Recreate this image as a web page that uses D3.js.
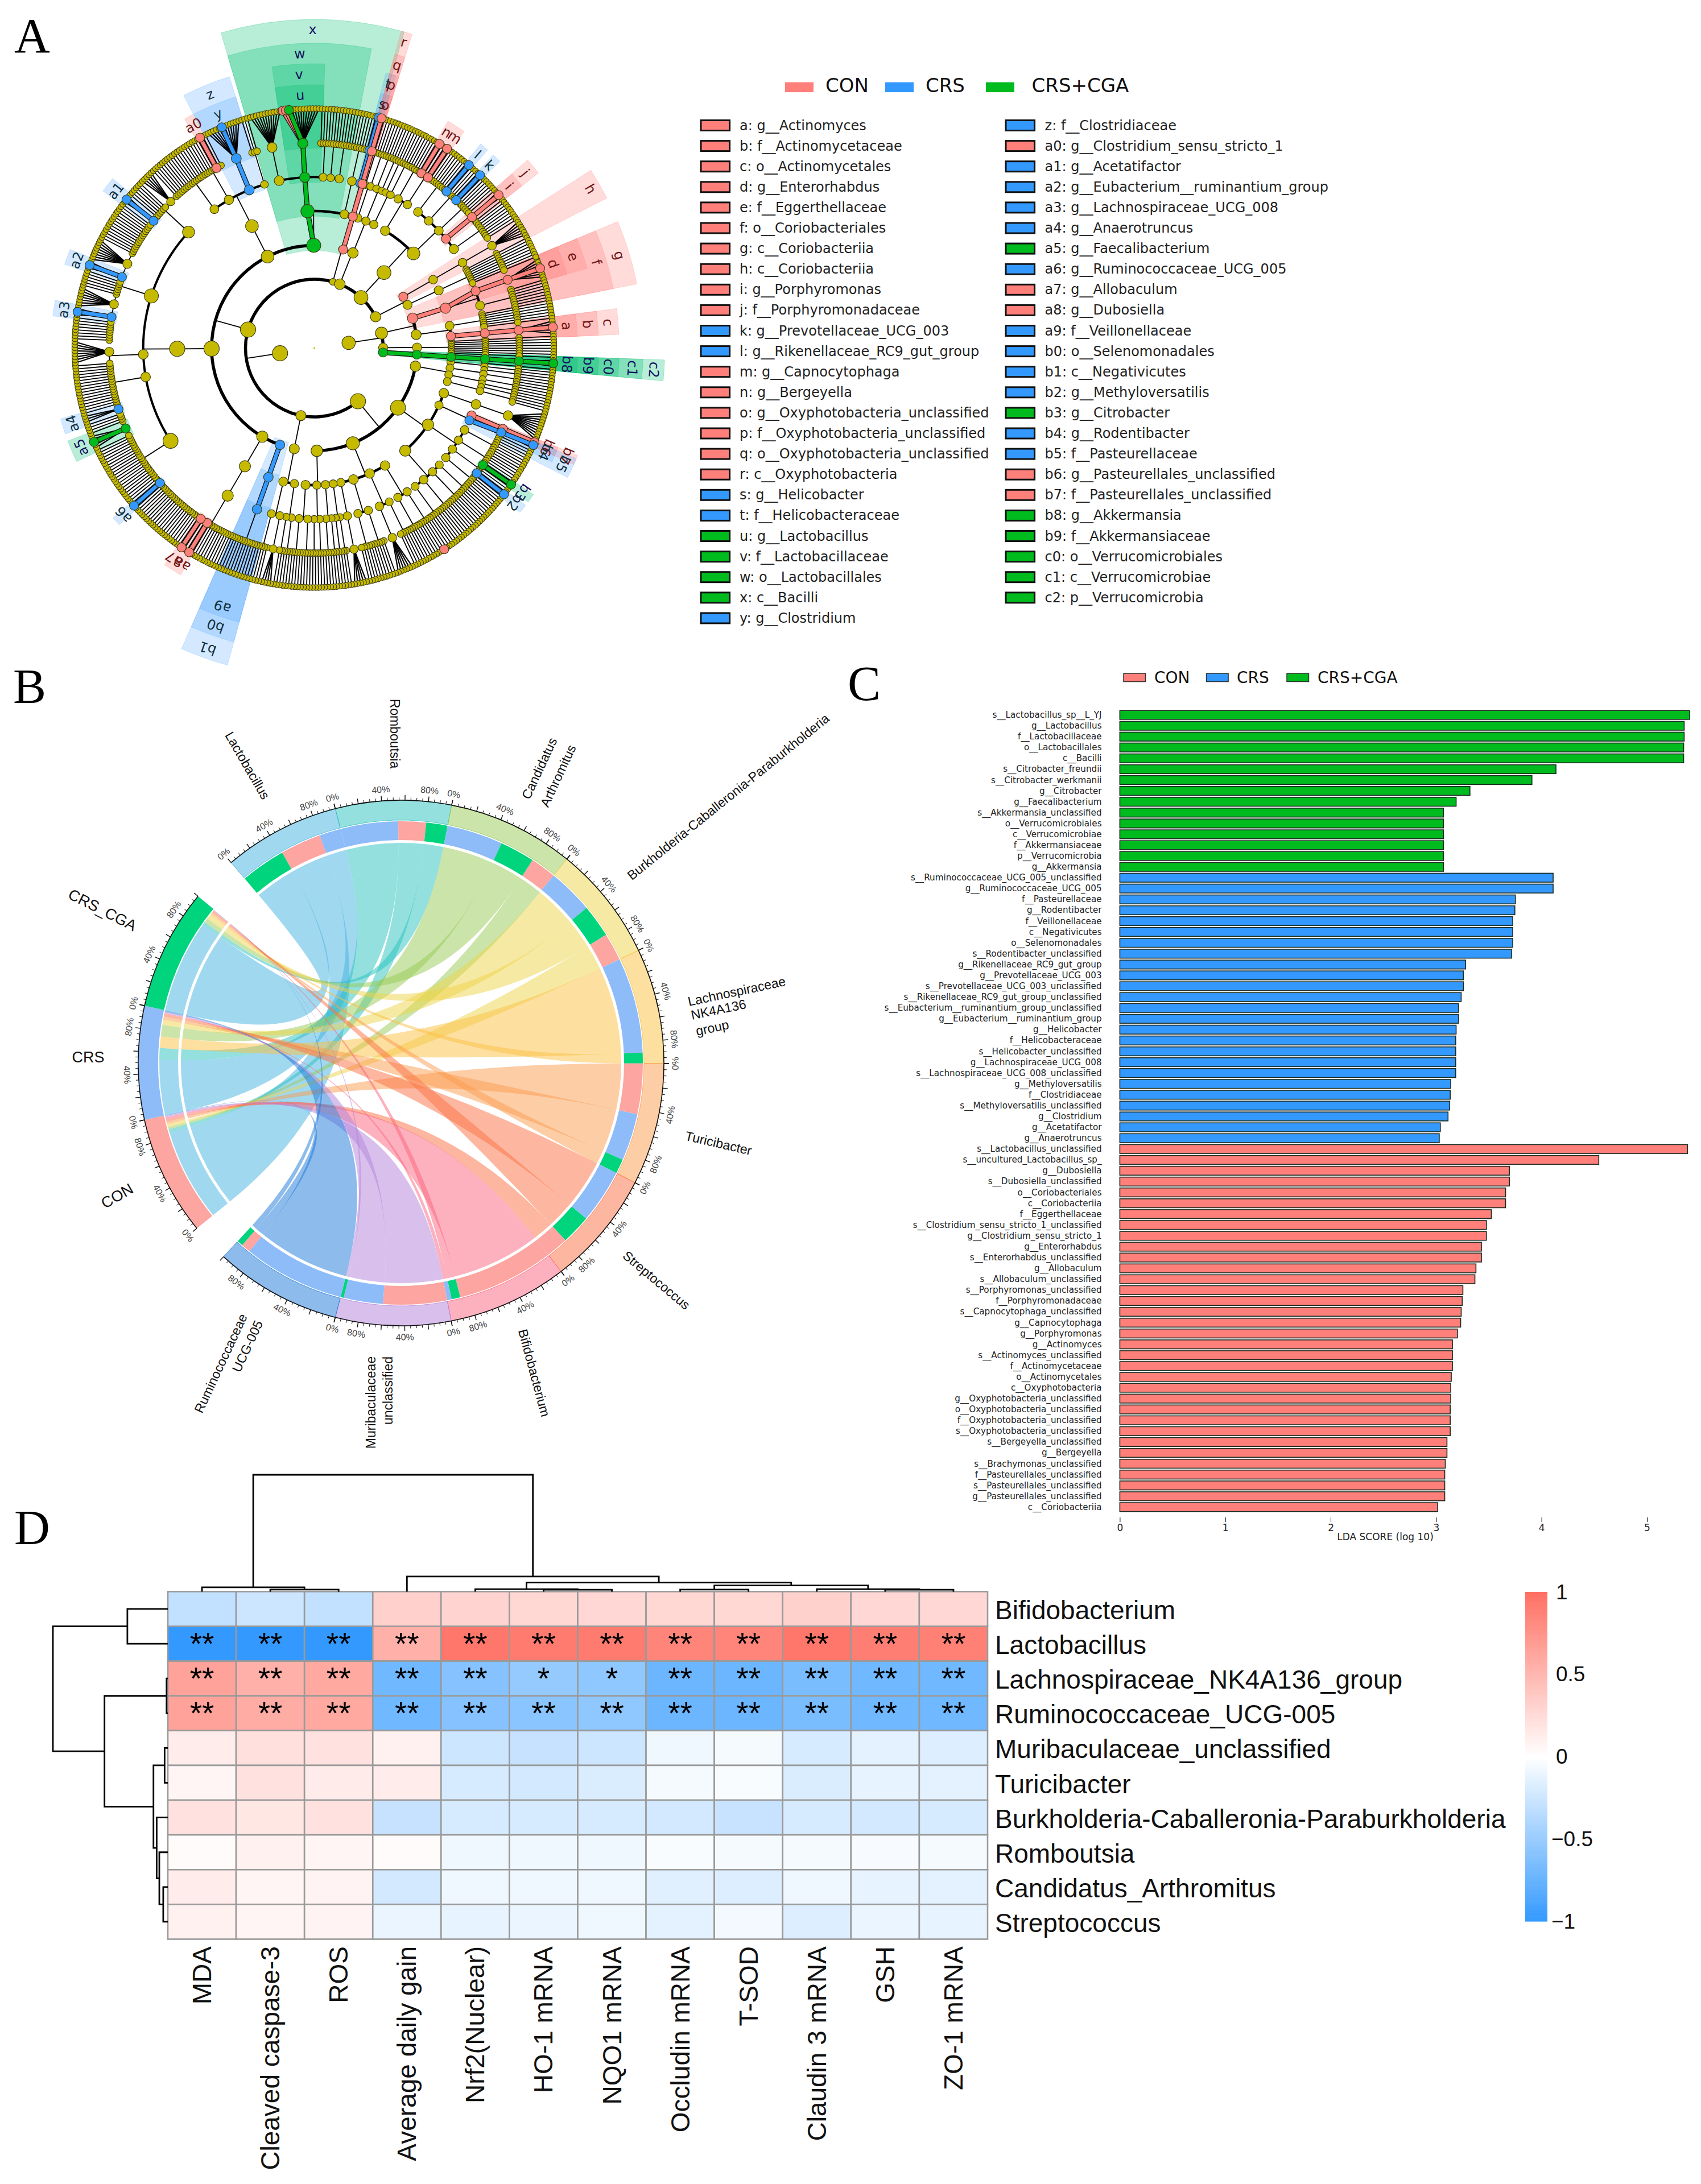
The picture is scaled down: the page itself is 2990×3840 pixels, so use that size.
<!DOCTYPE html>
<html><head><meta charset="utf-8">
<script src="https://cdn.jsdelivr.net/npm/d3@7"></script>
<style>html,body{margin:0;padding:0;background:#fff}svg{display:block}</style>
</head><body><svg id="c" width="2990" height="3840"></svg>
<script>
/* ---------- DATA ---------- */
const groupNames=["CON","CRS","CRS+CGA"];
const groupKeys=["r","b","g"];
const legendTags=["a","b","c","d","e","f","g","h","i","j","k","l","m","n","o","p","q","r","s","t","u","v","w","x","y","z","a0","a1","a2","a3","a4","a5","a6","a7","a8","a9","b0","b1","b2","b3","b4","b5","b6","b7","b8","b9","c0","c1","c2"];
const legendTaxa=["g__Actinomyces","f__Actinomycetaceae","o__Actinomycetales","g__Enterorhabdus","f__Eggerthellaceae","o__Coriobacteriales","c__Coriobacteriia","c__Coriobacteriia","g__Porphyromonas","f__Porphyromonadaceae","g__Prevotellaceae_UCG_003","g__Rikenellaceae_RC9_gut_group","g__Capnocytophaga","g__Bergeyella","g__Oxyphotobacteria_unclassified","f__Oxyphotobacteria_unclassified","o__Oxyphotobacteria_unclassified","c__Oxyphotobacteria","g__Helicobacter","f__Helicobacteraceae","g__Lactobacillus","f__Lactobacillaceae","o__Lactobacillales","c__Bacilli","g__Clostridium","f__Clostridiaceae","g__Clostridium_sensu_stricto_1","g__Acetatifactor","g__Eubacterium__ruminantium_group","g__Lachnospiraceae_UCG_008","g__Anaerotruncus","g__Faecalibacterium","g__Ruminococcaceae_UCG_005","g__Allobaculum","g__Dubosiella","f__Veillonellaceae","o__Selenomonadales","c__Negativicutes","g__Methyloversatilis","g__Citrobacter","g__Rodentibacter","f__Pasteurellaceae","g__Pasteurellales_unclassified","f__Pasteurellales_unclassified","g__Akkermansia","f__Akkermansiaceae","o__Verrucomicrobiales","c__Verrucomicrobiae","p__Verrucomicrobia"];
const legendGroups="rrrrrrrrrrbbrrrrrrbbggggbbrbbbbgbrrbbbbgbbrrggggg";
// cladogram taxonomy, clockwise; a positive number is that many one-species genera,
// a negative number is one genus holding that many species
const kingdomA=[
 [["g",["f",["e",["d",3,[".r"],3]],7]],[[1,1,1,1,1,1,1],["c",["b",["a",2,[".r"],2]]]]],
 [[1,1,1,1,1,1,1,1]],
 ["c2",["c1",["c0",["b9",["b8",1,[".g"],1]]]]]
];
const proteobacteria=[
 [[1,2],[1,3],[2,2],[1,3]],
 [-10,[["b7",["b6",[".r"]]],["b5",["b4",[".b"],1],2]],
  [[3,3],[3,2],[["b3",[".g"]],3,["b2",[".b"]]],[3,2]],
  [[2,2],[2,2,1],[3,3],[4]]],
 [[[2,[[".r"]],2],5],[4,-6],[5,5],[-5]],
 [[2,2],[2,3],[3,2],[4,4]]
];
const phylumBottom=[[[3,2],[-4,4]]];
const firmicutes=[
 ["b1",["b0",["a9",3,4,3]]],
 [[[4,4,3,["a8",[".r"]],2,["a7",[".r"]],3,2]]],
 [[[6,5,4,["a6",[".b"]],5,8,6,3,["a5",2,[".g"],2],4,["a4",3],4],
   [5,5],[3,-8],
   [8,["a3",1,[".b"],1],-7,6,["a2",1,[".b"],1],-8,5,4],
   [5,["a1",1,[".b"],1],6,-5,6]]],
 [[[3,4],[6,["a0",[".r"]],2],["z",["y",5,[".b"],6]],[1,2]]],
 ["x",["w",[-11],["v",["u",[".r"],[".r"],[".g"],10]],[2,2],[3],[2,3]],[[3,4]]]
];
const epsilon=[[[["t",["s",[".b"]]]]]];
const phylumTop=[["r",["q",["p",["o",[".r"]]]]],[[2,3],[3,2],[2,3]]];
const bacteroidetes=[[
 [[3,2],[["n",[".r"]],2,["m",[".r"]],1]],
 [[3,4],[["l",[".b"]],4,["k",[".b"]]],[4,3],["j",["i",1,[".r"],1]],[4,5]]
]];
const phylumH=[["h",-6],[[1,1,1,1,1,1,1,1]]];
const kingdomB=[proteobacteria,phylumBottom,firmicutes,epsilon,phylumTop,bacteroidetes,phylumH];

// chord
const chordGroups=["CON","CRS","CRS_CGA"];
const chordSpecies=["Lactobacillus","Romboutsia","Candidatus_Arthromitus","Burkholderia","Lachnospiraceae_NK4A136","Turicibacter","Streptococcus","Bifidobacterium","Muribaculaceae","Ruminococcaceae_UCG005"];
const groupSizes=[26.5,25.1,26.8];
const speciesSizes=[25.8,25.6,28,25.5,25.5,27,25.4,26.5,25.5,28];
const speciesGroupOrder=[[2,0,1],[1,0,2],[1,2,0],[1,2,0],[1,2],[0,1,2],[1,2,0],[0,2,1],[0,1,2],[1,0,2]];
const speciesGroupPct=[[42,38,20],[54,26,20],[48,30,22],[43,31,26],[90,10],[45,42,13],[51,28,21],[88,8,4],[60,37,3],[87,8,5]];
const groupSpeciesOrder=[[0,1,2,3,4,5,6,7,8,9],[0,1,4,2,3,5,6,7,8,9],[0,1,2,3,4,5,6,7,8,9]];
const groupSpeciesPct=[[84,3,2,2,1,2,2,2,1.5,.5],[53,11,11,11,5,3,2.5,.8,1.2,1.5],[83,3,4,4,1.5,1.5,1.5,.5,.3,.2]];
const chordTicks=[0,20,40,60,80,100];

// LDA
const ldaGreen=["s__Lactobacillus_sp__L_YJ","g__Lactobacillus","f__Lactobacillaceae","o__Lactobacillales","c__Bacilli","s__Citrobacter_freundii","s__Citrobacter_werkmanii","g__Citrobacter","g__Faecalibacterium","s__Akkermansia_unclassified","o__Verrucomicrobiales","c__Verrucomicrobiae","f__Akkermansiaceae","p__Verrucomicrobia","g__Akkermansia"];
const ldaGreenV=[5.405,5.353,5.353,5.348,5.348,4.137,3.909,3.321,3.19,3.07,3.07,3.07,3.07,3.07,3.07];
const ldaBlue=["s__Ruminococcaceae_UCG_005_unclassified","g__Ruminococcaceae_UCG_005","f__Pasteurellaceae","g__Rodentibacter","f__Veillonellaceae","c__Negativicutes","o__Selenomonadales","s__Rodentibacter_unclassified","g__Rikenellaceae_RC9_gut_group","g__Prevotellaceae_UCG_003","s__Prevotellaceae_UCG_003_unclassified","s__Rikenellaceae_RC9_gut_group_unclassified","s__Eubacterium__ruminantium_group_unclassified","g__Eubacterium__ruminantium_group","g__Helicobacter","f__Helicobacteraceae","s__Helicobacter_unclassified","g__Lachnospiraceae_UCG_008","s__Lachnospiraceae_UCG_008_unclassified","g__Methyloversatilis","f__Clostridiaceae","s__Methyloversatilis_unclassified","g__Clostridium","g__Acetatifactor","g__Anaerotruncus"];
const ldaBlueV=[4.11,4.11,3.752,3.747,3.727,3.727,3.727,3.716,3.28,3.259,3.259,3.238,3.212,3.212,3.19,3.186,3.186,3.186,3.186,3.139,3.134,3.129,3.113,3.04,3.03];
const ldaRed=["s__Lactobacillus_unclassified","s__uncultured_Lactobacillus_sp_","g__Dubosiella","s__Dubosiella_unclassified","o__Coriobacteriales","c__Coriobacteriia","f__Eggerthellaceae","s__Clostridium_sensu_stricto_1_unclassified","g__Clostridium_sensu_stricto_1","g__Enterorhabdus","s__Enterorhabdus_unclassified","g__Allobaculum","s__Allobaculum_unclassified","s__Porphyromonas_unclassified","f__Porphyromonadaceae","s__Capnocytophaga_unclassified","g__Capnocytophaga","g__Porphyromonas","g__Actinomyces","s__Actinomyces_unclassified","f__Actinomycetaceae","o__Actinomycetales","c__Oxyphotobacteria","g__Oxyphotobacteria_unclassified","o__Oxyphotobacteria_unclassified","f__Oxyphotobacteria_unclassified","s__Oxyphotobacteria_unclassified","s__Bergeyella_unclassified","g__Bergeyella","s__Brachymonas_unclassified","f__Pasteurellales_unclassified","s__Pasteurellales_unclassified","g__Pasteurellales_unclassified","c__Coriobacteriia"];
const ldaRedV=[5.385,4.543,3.695,3.695,3.659,3.659,3.524,3.477,3.477,3.43,3.43,3.378,3.368,3.254,3.248,3.238,3.233,3.202,3.155,3.155,3.155,3.144,3.139,3.139,3.134,3.134,3.134,3.103,3.103,3.087,3.082,3.082,3.082,3.015];
const ldaTicks=[0,1,2,3,4,5];

// heatmap
const hmCols=["MDA","Cleaved caspase-3","ROS","Average daily gain","Nrf2(Nuclear)","HO-1 mRNA","NQO1 mRNA","Occludin mRNA","T-SOD","Claudin 3 mRNA","GSH","ZO-1 mRNA"];
const hmRows=["Bifidobacterium","Lactobacillus","Lachnospiraceae_NK4A136_group","Ruminococcaceae_UCG-005","Muribaculaceae_unclassified","Turicibacter","Burkholderia-Caballeronia-Paraburkholderia","Romboutsia","Candidatus_Arthromitus","Streptococcus"];
const hmValues=[
[-.3,-.25,-.3,.33,.3,.28,.27,.28,.28,.32,.27,.27],
[-1,-1,-1,.55,.95,.92,.92,.85,.85,.95,.9,.88],
[.65,.55,.6,-.7,-.6,-.52,-.55,-.72,-.72,-.65,-.7,-.7],
[.65,.58,.6,-.7,-.6,-.57,-.55,-.72,-.72,-.65,-.7,-.7],
[.13,.22,.2,.1,-.25,-.28,-.25,-.08,-.05,-.2,-.13,-.17],
[.07,.2,.14,.13,-.2,-.22,-.18,-.05,-.03,-.18,-.12,-.13],
[.2,.17,.2,-.28,-.2,-.2,-.2,-.22,-.27,-.2,-.22,-.2],
[.03,.1,.07,.03,-.08,-.08,-.08,-.03,-.05,-.05,-.04,-.05],
[.13,.07,.08,-.22,-.08,-.08,-.08,-.15,-.17,-.08,-.12,-.13],
[.1,.07,.08,-.1,-.12,-.1,-.08,-.13,-.06,-.17,-.1,-.12]];
const hmStars={1:Array(12).fill("**"),2:["**","**","**","**","**","*","*","**","**","**","**","**"],3:Array(12).fill("**")};
const colDendro=[1,[.037,"MDA",[.017,"Cleaved caspase-3","ROS"]],[.129,"Average daily gain",[.078,[.021,"Nrf2(Nuclear)",[.016,"HO-1 mRNA","NQO1 mRNA"]],[.052,[.017,"Occludin mRNA","T-SOD"],[.021,"Claudin 3 mRNA",[.016,"GSH","ZO-1 mRNA"]]]]]];
const rowDendro=[1,[.352,hmRows[0],hmRows[1]],[.551,[.011,hmRows[2],hmRows[3]],[.125,[.028,hmRows[4],hmRows[5]],[.097,hmRows[6],[.074,hmRows[7],[.04,hmRows[8],hmRows[9]]]]]]];
const cbTicks=[1,.5,0,-.5,-1];

/* ---------- STYLE ---------- */
const DJ="'DejaVu Sans'",LS="'Liberation Sans'",SERIF="'Liberation Serif'";
const colR="#ff7f7a",colB="#3399ff",colG="#00bb1e";
const cladeCol={r:colR,b:colB,g:colG};
const sectorCol={r:"#ff7f7a",b:"#4aa3ff",g:"#00c070"};
const labelCol={r:"#6e1414",b:"#0f3040",g:"#12125e"};
const svg=d3.select("#c");
const rad=d=>d*Math.PI/180;
function txt(g,s,x,y,o={}){const t=g.append("text").text(s).attr("font-family",o.f||LS).attr("font-size",o.s||20).attr("fill",o.c||"#111").attr("text-anchor",o.a||"middle").attr("dominant-baseline",o.b||"central");
 t.attr("transform",`translate(${x},${y}) rotate(${o.r||0})`);return t;}
[["A",25,92],["B",23,1236],["C",1490,1231],["D",25,2715]].forEach(([l,x,y])=>txt(svg,l,x,y,{f:SERIF,s:87,a:"start",b:"auto",c:"#000"}));

/* ---------- A: cladogram ---------- */
(function(){
 const cx=552.5,cy=612;
 const R=[0,61,121,180.6,241,300.8,360.5,421];
 const outerByDepth={2:616,3:578,4:536,5:500,6:463};
 const g=svg.append("g").attr("transform",`translate(${cx},${cy})`);
 const oneSpeciesGenus=()=>({children:[{}]});
 function build(s,d){
  if(typeof s==="number"){
   if(d===6)return{children:d3.range(Math.abs(s)).map(()=>({}))};
   if(d===5&&s>0)return{children:d3.range(s).map(oneSpeciesGenus)};
   return{children:[build(s,d+1)]};
  }
  let tag=null,rest=s;
  if(typeof s[0]==="string"){tag=s[0];rest=s.slice(1);}
  if(rest.length===0)return tag?{tag}:{};
  let ch=[];
  rest.forEach(x=>{
   if(d+1===7&&typeof x==="number")d3.range(x).forEach(()=>ch.push({}));
   else if(d+1===6&&typeof x==="number"&&x>0)d3.range(x).forEach(()=>ch.push(oneSpeciesGenus()));
   else ch.push(build(x,d+1));
  });
  return{tag,children:ch};
 }
 const rootData={children:[build(kingdomA,1),build(kingdomB,1)]};
 const root=d3.hierarchy(rootData);
 d3.cluster().size([360,1]).separation(()=>1)(root);
 const theta0=68;
 root.each(n=>{n.t=n.x+theta0;});
 root.eachAfter(n=>{if(n.children){const l=n.leaves();n.t=(l[0].t+l[l.length-1].t)/2;n.tMin=l[0].t;n.tMax=l[l.length-1].t;n.nLeaves=l.length;}else{n.tMin=n.tMax=n.t;n.nLeaves=1;}});
 root.t=0;
 const P=(r,t)=>[r*Math.sin(rad(t)),-r*Math.cos(rad(t))];
 const colourOf=n=>{const t=n.data.tag;if(!t)return null;if(t[0]===".")return t[1];const i=legendTags.indexOf(t);return legendGroups[i];};
 const all=root.descendants().filter(n=>n.depth>0);
 // sectors
 const arc=d3.arc();
 const lab=all.filter(n=>n.data.tag&&n.data.tag[0]!==".").sort((a,b)=>a.depth-b.depth);
 lab.forEach(n=>{
  const k=colourOf(n);
  g.append("path").attr("d",arc({innerRadius:R[n.depth]-9,outerRadius:outerByDepth[n.depth],startAngle:rad(n.tMin-1.0),endAngle:rad(n.tMax+1.0)}))
   .attr("fill",sectorCol[k]).attr("fill-opacity",k==="b"?0.24:0.28).attr("stroke",sectorCol[k]).attr("stroke-opacity",.25);
 });
 // plain edges
 const arcW={2:5.5,3:5.5,4:4.5,5:4,6:2,7:1.5};
 const le=g.append("g"),ce=g.append("g");
 root.descendants().filter(n=>n.children&&n.depth>0).forEach(n=>{
  const cd=n.depth+1,rc=R[cd],many=n.children.length>1&&cd<=6;
  if(many){
   const a=n.children[0].t,b=n.children[n.children.length-1].t;
   le.append("path").attr("d",arc({innerRadius:rc-arcW[cd]/2,outerRadius:rc+arcW[cd]/2,startAngle:rad(a),endAngle:rad(b)})).attr("fill","#000");
   const p0=P(R[n.depth],n.t),p1=P(rc,n.t);
   le.append("line").attr("x1",p0[0]).attr("y1",p0[1]).attr("x2",p1[0]).attr("y2",p1[1]).attr("stroke","#000").attr("stroke-width",1.8);
  }else{
   n.children.forEach(c=>{const p0=P(R[n.depth],n.t),p1=P(rc,c.t);
    le.append("line").attr("x1",p0[0]).attr("y1",p0[1]).attr("x2",p1[0]).attr("y2",p1[1]).attr("stroke","#000").attr("stroke-width",n.children.length>1?2.2:1.8);});
  }
 });
 // coloured edges
 all.filter(n=>n.parent&&n.parent.depth>0&&colourOf(n)&&colourOf(n.parent)).forEach(n=>{
  const p0=P(R[n.depth-1],n.parent.t),p1=P(R[n.depth],n.t);
  [["#111",9],[cladeCol[colourOf(n)],6.5]].forEach(([c,w])=>ce.append("line").attr("x1",p0[0]).attr("y1",p0[1]).attr("x2",p1[0]).attr("y2",p1[1]).attr("stroke",c).attr("stroke-width",w));
 });
 // nodes
 const rNode=n=>{const k=colourOf(n);
  if(n.depth===7)return k?8:5.2;
  const b=Math.min(13.5,4.8+Math.sqrt(n.nLeaves)*1.15);
  return k?Math.max(8,b):b;};
 const order=all.slice().sort((a,b)=>(colourOf(a)?1:0)-(colourOf(b)?1:0));
 g.append("g").selectAll("circle").data(order).join("circle")
  .attr("cx",n=>P(R[n.depth],n.t)[0]).attr("cy",n=>P(R[n.depth],n.t)[1]).attr("r",rNode)
  .attr("fill",n=>colourOf(n)?cladeCol[colourOf(n)]:"#c6ba00").attr("stroke","#3a3a14").attr("stroke-width",1.1);
 g.append("circle").attr("r",1.6).attr("fill","#c6ba00");
 // labels
 lab.forEach(n=>{const k=colourOf(n),rl=outerByDepth[n.depth]-18,p=P(rl,(n.tMin+n.tMax)/2);
  txt(g,n.data.tag,p[0],p[1],{f:DJ,s:24,c:labelCol[k],r:(n.tMin+n.tMax)/2});});
 // legends
 const lg=svg.append("g");
 [[1380,1451],[1556,1627],[1733,1813.6]].forEach((p,i)=>{
  lg.append("rect").attr("x",p[0]).attr("y",144.6).attr("width",50).attr("height",17.5).attr("fill",cladeCol[groupKeys[i]]);
  txt(lg,groupNames[i],p[1],150,{f:DJ,s:34,a:"start",c:"#111"});
 });
 const rowY=d3.scalePoint().domain(d3.range(25)).range([220.5,220.5+24*36.1]);
 legendTags.forEach((t,i)=>{
  const col=i<25?0:1,row=i%25,x=col?1768:1232,tx=col?1836.6:1300,y=rowY(row);
  lg.append("rect").attr("x",x).attr("y",y-9).attr("width",50.6).attr("height",18).attr("fill",cladeCol[legendGroups[i]]).attr("stroke","#111").attr("stroke-width",3);
  txt(lg,`${t}: ${legendTaxa[i]}`,tx,y,{f:DJ,s:24,a:"start",c:"#222"});
 });
})();

/* ---------- B: chord ---------- */
(function(){
 const cx=705,cy=1869,rO1=462,rO0=427,rI1=425,rI0=392,rL=387;
 const g=svg.append("g").attr("transform",`translate(${cx},${cy})`);
 const specCol=["#41b1df","#27c1bd","#97c953","#edd347","#fbbf41","#fb9b4d","#fb6f41","#fb617b","#b381d9","#1b77d9"];
 const groupCol=["#fca5a1","#8ebcf9","#00d47d"];
 const gapAfterGroups=10.3,start=231;
 const sectors=[];let a=start;
 groupSizes.forEach((s,i)=>{sectors.push({kind:"g",i,a0:a,a1:a+s});a+=s;});
 a+=gapAfterGroups;
 speciesSizes.forEach((s,i)=>{sectors.push({kind:"s",i,a0:a,a1:a+s});a+=s;});
 const arc=d3.arc();
 const gs=sectors.filter(s=>s.kind==="g"),ss=sectors.filter(s=>s.kind==="s");
 const specAt=speciesGroupOrder.map((ord,i)=>{let cur=ss[i].a0;const w=ss[i].a1-ss[i].a0;const o={};
  ord.forEach((gi,j)=>{const d=w*speciesGroupPct[i][j]/100;o[gi]=[cur,cur+d];cur+=d;});return o;});
 const grpAt=groupSpeciesOrder.map((ord,i)=>{let cur=gs[i].a0;const w=gs[i].a1-gs[i].a0;const o={};
  ord.forEach((si,j)=>{const d=w*groupSpeciesPct[i][j]/100;o[si]=[cur,cur+d];cur+=d;});return o;});
 // ribbons
 const ribbon=d3.ribbon().radius(rL);
 const rg=g.append("g");
 chordSpecies.forEach((sp,si)=>{
  speciesGroupOrder[si].forEach(gi=>{
   const s=specAt[si][gi],t=grpAt[gi][si];
   rg.append("path").attr("d",ribbon({source:{startAngle:rad(s[0]),endAngle:rad(s[1])},target:{startAngle:rad(t[0]),endAngle:rad(t[1])}}))
    .attr("fill",specCol[si]).attr("fill-opacity",.5);
  });
 });
 // tracks
 ss.forEach(s=>{
  g.append("path").attr("d",arc({innerRadius:rO0,outerRadius:rO1,startAngle:rad(s.a0),endAngle:rad(s.a1)})).attr("fill",specCol[s.i]).attr("fill-opacity",.5).attr("stroke",specCol[s.i]).attr("stroke-width",.8);
  speciesGroupOrder[s.i].forEach(gi=>{const v=specAt[s.i][gi];
   g.append("path").attr("d",arc({innerRadius:rI0,outerRadius:rI1,startAngle:rad(v[0]),endAngle:rad(v[1])})).attr("fill",groupCol[gi]);});
 });
 gs.forEach(s=>{
  g.append("path").attr("d",arc({innerRadius:rO0,outerRadius:rO1,startAngle:rad(s.a0),endAngle:rad(s.a1)})).attr("fill",groupCol[s.i]);
  groupSpeciesOrder[s.i].forEach(si=>{const v=grpAt[s.i][si];
   g.append("path").attr("d",arc({innerRadius:rI0,outerRadius:rI1,startAngle:rad(v[0]),endAngle:rad(v[1])})).attr("fill",specCol[si]).attr("fill-opacity",.5);});
 });
 // axis
 const ag=g.append("g");
 sectors.forEach(s=>{
  const sc=d3.scaleLinear().domain([0,100]).range([s.a0,s.a1]);
  ag.append("path").attr("d",arc({innerRadius:rO1-.8,outerRadius:rO1+.8,startAngle:rad(s.a0),endAngle:rad(s.a1)})).attr("fill","#111");
  d3.range(0,101,5).forEach(v=>{const t=rad(sc(v)),maj=v%20===0,r2=rO1+(maj?9:5);
   ag.append("line").attr("x1",rO1*Math.sin(t)).attr("y1",-rO1*Math.cos(t)).attr("x2",r2*Math.sin(t)).attr("y2",-r2*Math.cos(t)).attr("stroke","#111").attr("stroke-width",maj?1.4:1);});
  chordTicks.filter(v=>v%40===0&&v<100).forEach(v=>{const d=sc(v),t=rad(d),r=482,nd=((d%360)+360)%360;
   txt(ag,v+"%",r*Math.sin(t),-r*Math.cos(t),{s:16,c:"#444",r:(nd>90&&nd<270)?nd+180:nd});});
 });
 // labels
 const L=svg.append("g");
 [["Lactobacillus",435,1346,60],["Romboutsia",694,1290,90],["Candidatus",948,1351,-65],["Arthromitus",981,1364,-65],
  ["Burkholderia-Caballeronia-Paraburkholderia",1280,1401,-39],["Lachnospiraceae",1295,1743,-12],["NK4A136",1263,1775,-12],["group",1252,1807,-12],
  ["Turicibacter",1263,2010,13],["Streptococcus",1154,2251,40],["Bifidobacterium",939,2414,75],
  ["Muribaculaceae",652,2466,-90],["unclassified",682,2445,-90],["Ruminococcaceae",388,2397,-65],["UCG-005",435,2367,-65]
 ].forEach(([s,x,y,r])=>txt(L,s,x,y,{s:23,r,c:"#111"}));
 [["CRS_CGA",180,1600,27],["CRS",155,1859,0],["CON",206,2103,-30]].forEach(([s,x,y,r])=>txt(L,s,x,y,{s:27,r,c:"#111"}));
})();

/* ---------- C: LDA ---------- */
(function(){
 const names=[...ldaGreen,...ldaBlue,...ldaRed],vals=[...ldaGreenV,...ldaBlueV,...ldaRedV];
 const cols=[...ldaGreen.map(()=>colG),...ldaBlue.map(()=>colB),...ldaRed.map(()=>colR)];
 const x=d3.scaleLinear().domain([0,5]).range([1968.4,2895]);
 const y=d3.scaleBand().domain(d3.range(names.length)).range([1247.5,1247.5+19.08*names.length]).paddingInner(.18).paddingOuter(.09);
 const g=svg.append("g");
 g.selectAll("rect.b").data(vals).join("rect").attr("x",x(0)).attr("y",(d,i)=>y(i)).attr("width",d=>x(d)-x(0)).attr("height",y.bandwidth())
  .attr("fill",(d,i)=>cols[i]).attr("stroke","#1b2a20").attr("stroke-width",1.6);
 names.forEach((n,i)=>txt(g,n,1936.6,y(i)+y.bandwidth()/2,{f:DJ,s:15.2,a:"end",c:"#222"}));
 const ax=g.append("g").attr("transform","translate(0,2668)").call(d3.axisBottom(x).tickValues(ldaTicks).tickSize(8).tickPadding(4).tickFormat(d3.format("d")));
 ax.select(".domain").remove();
 ax.selectAll("text").attr("font-family",DJ).attr("font-size",17).attr("fill","#222");
 txt(g,"LDA SCORE (log 10)",2435,2702,{f:DJ,s:17,c:"#222"});
 [[1975,2029,0],[2120.6,2174,1],[2262,2316,2]].forEach(([sx,tx,i])=>{
  g.append("rect").attr("x",sx).attr("y",1184).attr("width",38.5).attr("height",14.5).attr("fill",cladeCol[groupKeys[i]]).attr("stroke","#333").attr("stroke-width",1.5);
  txt(g,groupNames[i],tx,1191,{f:DJ,s:28,a:"start",c:"#111"});
 });
})();

/* ---------- D: heatmap ---------- */
(function(){
 const x=d3.scaleBand().domain(hmCols).range([295,1736]);
 const y=d3.scaleBand().domain(hmRows).range([2798.4,3409.5]);
 const colour=d3.scaleLinear().domain([-1,0,1]).range(["#3399ff","#ffffff","#ff7063"]);
 const g=svg.append("g");
 hmRows.forEach((r,ri)=>hmCols.forEach((c,ci)=>{
  g.append("rect").attr("x",x(c)).attr("y",y(r)).attr("width",x.bandwidth()).attr("height",y.bandwidth())
   .attr("fill",colour(hmValues[ri][ci])).attr("stroke","#9a9a9a").attr("stroke-width",2.6);
 }));
 Object.keys(hmStars).forEach(ri=>hmStars[ri].forEach((s,ci)=>{
  txt(g,s,x(hmCols[ci])+x.bandwidth()/2,y(hmRows[ri])+49.5,{s:55,b:"auto",c:"#000"});
 }));
 hmRows.forEach(r=>txt(g,r,1749,y(r)+y.bandwidth()/2+2,{s:46,a:"start",c:"#111"}));
 hmCols.forEach(c=>txt(g,c,x(c)+x.bandwidth()/2,3422,{s:46,a:"end",r:-90,c:"#111"}));
 // dendrograms
 function layout(tree,pos){
  const h=d3.hierarchy(tree,d=>Array.isArray(d)?d.slice(1):null);
  h.eachAfter(n=>{
   if(n.children){n.p=d3.mean(n.children,c=>c.p);n.h=n.data[0];}
   else{n.p=pos(n.data);n.h=0;}
  });
  return h;
 }
 const yH=d3.scaleLinear().domain([0,1]).range([2798.4,2593]);
 const xH=d3.scaleLinear().domain([0,1]).range([295,93]);
 const cd=layout(colDendro,n=>x(n)+x.bandwidth()/2),rd=layout(rowDendro,n=>y(n)+y.bandwidth()/2);
 const dg=g.append("g").attr("fill","none").attr("stroke","#000").attr("stroke-width",2.8);
 cd.descendants().filter(n=>n.children).forEach(n=>{
  const [a,b]=n.children,p=d3.path();
  p.moveTo(a.p,yH(a.h));p.lineTo(a.p,yH(n.h));p.lineTo(b.p,yH(n.h));p.lineTo(b.p,yH(b.h));
  dg.append("path").attr("d",p.toString());
 });
 rd.descendants().filter(n=>n.children).forEach(n=>{
  const [a,b]=n.children,p=d3.path();
  p.moveTo(xH(a.h),a.p);p.lineTo(xH(n.h),a.p);p.lineTo(xH(n.h),b.p);p.lineTo(xH(b.h),b.p);
  dg.append("path").attr("d",p.toString());
 });
 // colour bar
 const cb=d3.scaleLinear().domain([1,-1]).range([2799,3378]);
 const steps=d3.range(1,-1,-0.01);
 g.selectAll("rect.cb").data(steps).join("rect").attr("x",2681).attr("width",39).attr("y",d=>cb(d)).attr("height",cb(0)-cb(.01)+.6).attr("fill",d=>colour(d));
 cbTicks.forEach(v=>txt(g,v<0?"\u2212"+Math.abs(v):String(v),v<0?2727:2735,cb(v),{s:37,a:"start",c:"#111"}));
})();
</script></body></html>
